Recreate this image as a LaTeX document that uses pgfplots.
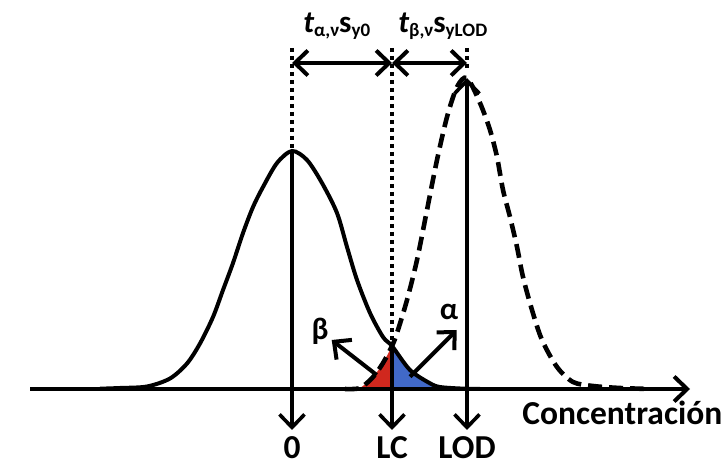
\documentclass[border=0pt]{standalone}
\usepackage{fontspec}
\setmainfont{Carlito}
\usepackage{pgfplots}
\pgfplotsset{compat=1.18}
\usetikzlibrary{arrows.meta}
\definecolor{redA}{RGB}{208,40,30}
\definecolor{blueA}{RGB}{65,105,200}
\newcommand{\bigf}{\fontsize{15.5}{18}\selectfont\bfseries}
\newcommand{\subf}{\fontsize{9.5}{11}\selectfont\bfseries}
\newcommand{\toplab}[2]{{\bigf\itshape t}\raisebox{-2pt}{\subf #1}{\bigf s}\raisebox{-2pt}{\subf #2}}
\begin{document}
\begin{tikzpicture}[
  barb/.style={-{Straight Barb[length=6.5pt,width=12.5pt]}},
  dbarb/.style={{Straight Barb[length=6.5pt,width=12.5pt]}-{Straight Barb[length=6.5pt,width=12.5pt]}},
  dotl/.style={line width=2pt, dash pattern=on 2pt off 2pt},
]
\begin{axis}[
  x=0.5pt, y=0.5pt, xmin=0, xmax=727, ymin=-76, ymax=389,
  hide axis, clip=false,
]
\coordinate (bl) at (axis cs:0,-76);
\coordinate (tr) at (axis cs:727,389);
% fills
\addplot[draw=none, fill=redA, smooth] coordinates {(352,0) (360,1) (373,12) (383,26) (392,43)} \closedcycle;
\addplot[draw=none, fill=blueA, smooth] coordinates {(392,43) (410,19) (430,5.7) (440,2) (452,0.5)} \closedcycle;
% solid curve (blank)
\addplot[black, line width=2pt, smooth] coordinates {
(100,0.3) (120,1) (147,2.5) (170,10.5) (187,25.5) (200,45.5) (213,72) (223,99) (233,126) (243,156) (253,182) (263,202) (277,226) (292,238) (307,229) (322,206) (337,176) (347,142) (357,109) (370,76) (383,52) (392,43) (410,19) (430,5.7) (440,2) (460,0.5) (480,0)};
% dashed curve (LOD)
\addplot[black, line width=2.3pt, smooth, dash pattern=on 7pt off 3.5pt] coordinates {
(345,0) (360,1) (373,12) (383,26) (392,43) (397,56) (407,89) (417,129) (427,179) (437,229) (447,272) (457,302) (467,311) (480,286) (490,259) (497,232) (503,199) (510,172) (517,142) (523,112) (532,79) (542,49) (557,22) (573,7) (593,3) (620,1) (650,0)};
% axis
\draw[line width=2pt, barb] (axis cs:30,0) -- (axis cs:690,0);
% vertical lines
\draw[line width=1.8pt, barb] (axis cs:292,239) -- (axis cs:292,-41);
\draw[line width=1.8pt, barb] (axis cs:392,44) -- (axis cs:392,-41);
\draw[line width=1.8pt, dbarb] (axis cs:467,311) -- (axis cs:467,-41);
\draw[dotl] (axis cs:292,341) -- (axis cs:292,239);
\draw[dotl] (axis cs:392,341) -- (axis cs:392,44);
\draw[dotl] (axis cs:467,341) -- (axis cs:467,318);
% horizontal arrows
\draw[line width=2pt, dbarb] (axis cs:292,326) -- (axis cs:392,326);
\draw[line width=2pt, dbarb] (axis cs:392,326) -- (axis cs:467,326);
% alpha beta arrows
\draw[line width=2pt, barb] (axis cs:376.7,14) -- (axis cs:331.7,49);
\draw[line width=2pt, barb] (axis cs:410,12.3) -- (axis cs:456.7,59);
% texts
\node[anchor=base west, inner sep=0, font=\fontsize{16.75}{20}\selectfont\bfseries] at (axis cs:522,-36) {Concentración};
\node[anchor=base, inner sep=0, font=\fontsize{16.75}{20}\selectfont\bfseries] at (axis cs:292,-70) {0};
\node[anchor=base, inner sep=0, font=\fontsize{16.75}{20}\selectfont\bfseries] at (axis cs:392,-70) {LC};
\node[anchor=base, inner sep=0, font=\fontsize{16.75}{20}\selectfont\bfseries] at (axis cs:467,-70) {LOD};
\node[inner sep=0, font=\fontsize{15.5}{18}\selectfont\bfseries] at (axis cs:320,58) {β};
\node[inner sep=0, font=\fontsize{15.5}{18}\selectfont\bfseries] at (axis cs:449,77) {α};
\node[anchor=base west, inner sep=0] at (axis cs:303,356) {\toplab{α,ν}{y0}};
\node[anchor=base west, inner sep=0] at (axis cs:398,356) {\toplab{β,ν}{yLOD}};
\end{axis}
\pgfresetboundingbox
\useasboundingbox (bl) rectangle (tr);
\end{tikzpicture}
\end{document}
